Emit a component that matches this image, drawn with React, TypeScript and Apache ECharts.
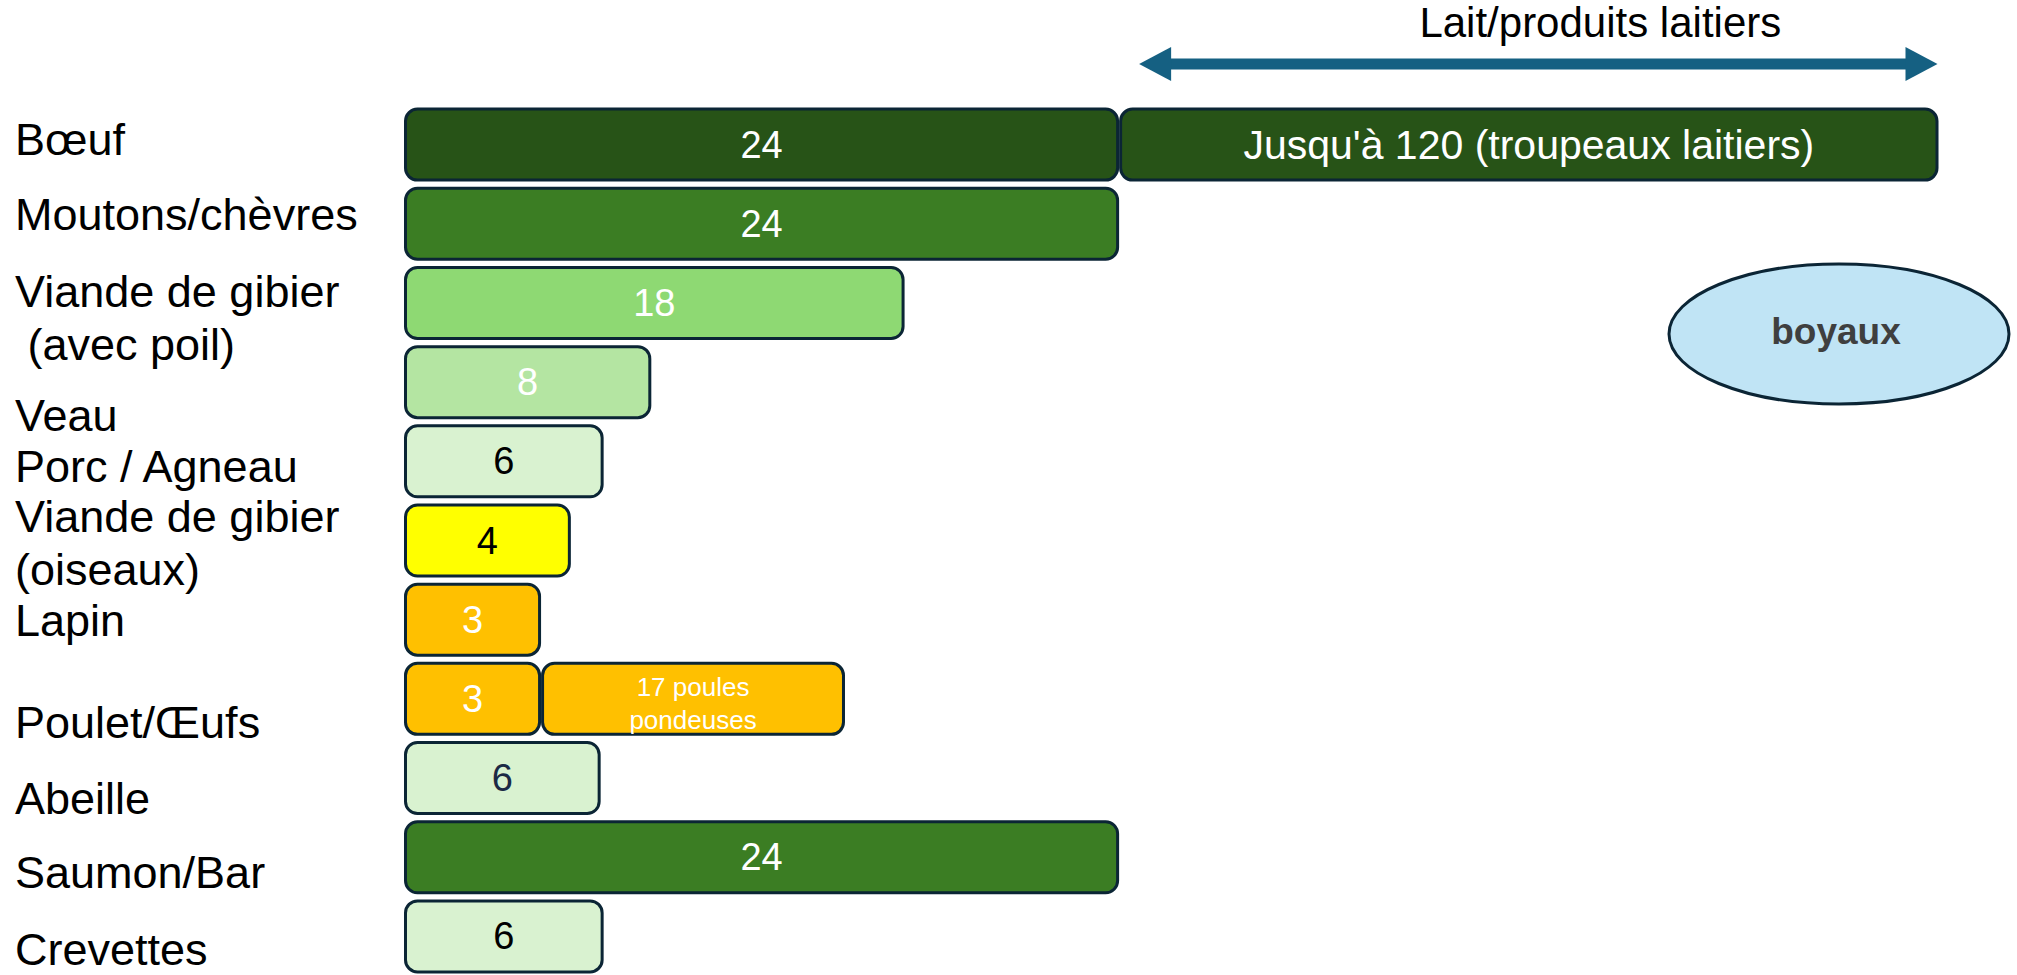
import React, { useEffect, useRef } from "react";
import * as echarts from "echarts";

// Categories, top to bottom
const categories = [
  "Bœuf",
  "Moutons/chèvres",
  "Viande de gibier\n (avec poil)",
  "Veau",
  "Porc / Agneau",
  "Viande de gibier\n(oiseaux)",
  "Lapin",
  "Poulet/Œufs",
  "Abeille",
  "Saumon/Bar",
  "Crevettes",
];

// Drawn length of the first segment of each bar
// (the drawing is not to scale: units where the "24" bars are 24 long)
const baseLength = [24, 24, 16.8, 8.3, 6.7, 5.6, 4.6, 4.6, 6.6, 24, 6.7];
// Number printed in the first segment
const baseLabel = ["24", "24", "18", "8", "6", "4", "3", "3", "6", "24", "6"];

// Second segment (only for Bœuf and Poulet/Œufs), drawn length
const extraLength = [27.5, null, null, null, null, null, null, 10.2, null, null, null];
const extraLabel = [
  "Jusqu'à 120 (troupeaux laitiers)",
  "",
  "",
  "",
  "",
  "",
  "",
  "17 poules\npondeuses",
  "",
  "",
  "",
];

const arrowText = "Lait/produits laitiers";
const bubbleText = "boyaux";

// ---- styles ----
const FONT = "'Liberation Sans', Arial, sans-serif";
const barColors = [
  "#275317",
  "#3B7D23",
  "#8ED973",
  "#B4E5A2",
  "#D9F2D0",
  "#FFFF00",
  "#FFC000",
  "#FFC000",
  "#D9F2D0",
  "#3B7D23",
  "#D9F2D0",
];
const baseLabelColors = [
  "#FFFFFF",
  "#FFFFFF",
  "#FFFFFF",
  "#FFFFFF",
  "#000000",
  "#000000",
  "#FFFFFF",
  "#FFFFFF",
  "#1B2A45",
  "#FFFFFF",
  "#000000",
];
const extraColors = ["#275317", null, null, null, null, null, null, "#FFC000", null, null, null];
// vertical shift (px) of each category label relative to its bar centre
const labelShift = [-5, -9, 15, 33, 5, 2, 1, 24, 20, 15, 13];
const BORDER = "#0B2535";

export default function App() {
  const ref = useRef<HTMLDivElement>(null);

  useEffect(() => {
    if (!ref.current) return;
    const chart = echarts.init(ref.current, undefined, { renderer: "svg" });

    const rich: Record<string, any> = {};
    labelShift.forEach((d, i) => {
      rich["c" + i] = {
        fontFamily: FONT,
        fontSize: 45,
        lineHeight: 53,
        color: "#000000",
        align: "left",
        padding: d >= 0 ? [2 * d, 0, 0, 0] : [0, 0, -2 * d, 0],
      };
    });

    const barCommon = {
      type: "bar",
      stack: "total",
      barWidth: 74,
      silent: true,
    };

    chart.setOption({
      animation: false,
      backgroundColor: "#FFFFFF",
      grid: {
        left: 404,
        top: 105,
        height: 871,
        width: 1609,
        containLabel: false,
        outerBoundsMode: "none",
      },
      xAxis: {
        type: "value",
        min: 0,
        max: 54,
        show: false,
      },
      yAxis: {
        type: "category",
        inverse: true,
        data: categories,
        axisLine: { show: false },
        axisTick: { show: false },
        splitLine: { show: false },
        axisLabel: {
          margin: 389,
          align: "left",
          formatter: (value: string, index: number) =>
            value
              .split("\n")
              .map((l) => `{c${index}|${l}}`)
              .join("\n"),
          rich,
        },
      },
      series: [
        {
          ...barCommon,
          name: "base",
          data: baseLength.map((v, i) => ({
            value: v,
            itemStyle: {
              color: barColors[i],
              borderColor: BORDER,
              borderWidth: 3,
              borderRadius: 12,
            },
            label: {
              show: true,
              position: "inside",
              formatter: () => baseLabel[i],
              color: baseLabelColors[i],
              fontFamily: FONT,
              fontSize: 38,
            },
          })),
        },
        {
          ...barCommon,
          name: "extra",
          data: extraLength.map((v, i) =>
            v == null
              ? "-"
              : {
                  value: v,
                  itemStyle: {
                    color: extraColors[i],
                    borderColor: BORDER,
                    borderWidth: 3,
                    borderRadius: 12,
                  },
                  label: {
                    show: true,
                    position: "inside",
                    formatter: () => extraLabel[i],
                    color: "#FFFFFF",
                    fontFamily: FONT,
                    fontSize: i === 0 ? 41 : 26,
                    lineHeight: i === 0 ? 46 : 33,
                    align: "center",
                    offset: i === 0 ? [0, 0] : [0, 5],
                  },
                }
          ),
        },
      ],
    });

    // Annotations placed from the axis scale
    const x0 = chart.convertToPixel({ xAxisIndex: 0 }, baseLength[0]) as number;
    const x1 = chart.convertToPixel(
      { xAxisIndex: 0 },
      baseLength[0] + (extraLength[0] as number)
    ) as number;
    const ax1 = x0 + 20;
    const ax2 = x1 - 1;
    const ay = 64;
    const head = 32;
    const half = 17;

    chart.setOption({
      graphic: [
        {
          type: "line",
          shape: { x1: ax1 + head - 2, y1: ay, x2: ax2 - head + 2, y2: ay },
          style: { stroke: "#156082", lineWidth: 11 },
          silent: true,
        },
        {
          type: "polygon",
          shape: {
            points: [
              [ax1, ay],
              [ax1 + head, ay - half],
              [ax1 + head, ay + half],
            ],
          },
          style: { fill: "#156082" },
          silent: true,
        },
        {
          type: "polygon",
          shape: {
            points: [
              [ax2, ay],
              [ax2 - head, ay - half],
              [ax2 - head, ay + half],
            ],
          },
          style: { fill: "#156082" },
          silent: true,
        },
        {
          type: "text",
          x: (ax1 + ax2) / 2 + 62,
          y: 22,
          style: {
            text: arrowText,
            fontFamily: FONT,
            fontSize: 42,
            fill: "#000000",
            align: "center",
            verticalAlign: "middle",
          },
          silent: true,
        },
        {
          type: "ellipse",
          shape: { cx: 1839, cy: 334, rx: 170, ry: 70 },
          style: { fill: "#C0E4F5", stroke: BORDER, lineWidth: 3 },
          silent: true,
        },
        {
          type: "text",
          x: 1836,
          y: 331,
          style: {
            text: bubbleText,
            fontFamily: FONT,
            fontSize: 37,
            fontWeight: "bold",
            fill: "#3F3F3F",
            align: "center",
            verticalAlign: "middle",
          },
          silent: true,
        },
      ],
    });

    return () => chart.dispose();
  }, []);

  return (
    <div
      ref={ref}
      style={{
        position: "fixed",
        left: 0,
        top: 0,
        width: 2017,
        height: 975,
        background: "#FFFFFF",
      }}
    />
  );
}
